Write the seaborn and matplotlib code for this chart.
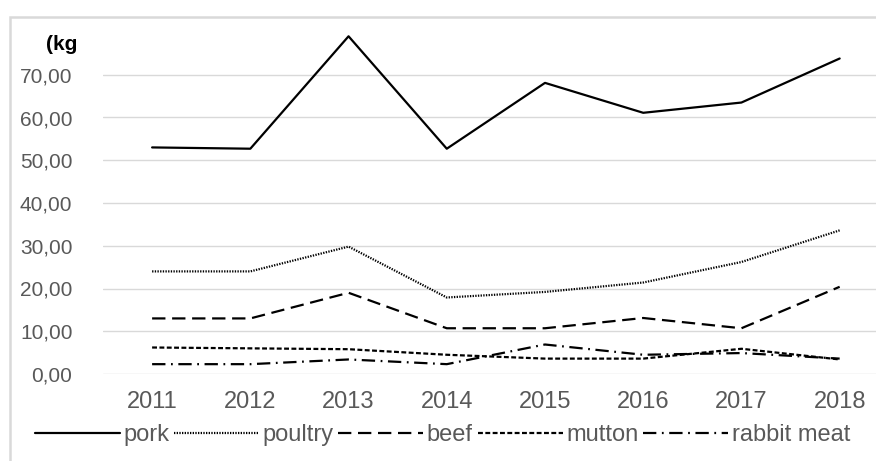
import matplotlib
matplotlib.use("Agg")
import matplotlib.pyplot as plt
import matplotlib.ticker as mticker
from matplotlib.patches import Rectangle
from matplotlib import font_manager
import pandas as pd
import seaborn as sns

# Per-capita meat consumption values
years = ["2011", "2012", "2013", "2014", "2015", "2016", "2017", "2018"]
pork = [53.0, 52.7, 79.0, 52.7, 68.1, 61.1, 63.5, 73.8]
poultry = [24.0, 24.0, 29.8, 17.9, 19.2, 21.4, 26.2, 33.6]
beef = [13.0, 13.0, 19.0, 10.7, 10.7, 13.1, 10.7, 20.4]
mutton = [6.2, 6.0, 5.8, 4.5, 3.6, 3.6, 5.9, 3.4]
rabbit = [2.3, 2.3, 3.4, 2.3, 6.9, 4.5, 4.9, 3.6]
series_names = ["pork", "poultry", "beef", "mutton", "rabbit meat"]
y_ticks = [0, 10, 20, 30, 40, 50, 60, 70]

sns.set_style("white")
plt.rcParams["font.family"] = ["Liberation Sans", "DejaVu Sans"]

# narrow face for x labels and legend if it is there
names = {f.name for f in font_manager.fontManager.ttflist}
narrow = "Liberation Sans Narrow" if "Liberation Sans Narrow" in names else "Liberation Sans"
print("narrow font:", narrow)

rows = []
for name, vals in zip(series_names, [pork, poultry, beef, mutton, rabbit]):
    for i, v in enumerate(vals):
        rows.append({"year": i, "meat": name, "kg": v})
df = pd.DataFrame(rows)

dashes = {
    "pork": "",
    "poultry": (0.6, 0.6),
    "beef": (6, 3),
    "mutton": (2.2, 1.1),
    "rabbit meat": (6, 2.5, 0.8, 2.5),
}

fig = plt.figure(figsize=(8.76, 4.61), dpi=100)
# light gray chart frame
fig.patches.append(Rectangle((10 / 876, -0.1), 1.0, 1.1 - 17 / 461,
                             transform=fig.transFigure, fill=False,
                             edgecolor="#d9d9d9", linewidth=1.8))
ax = fig.add_axes([103 / 876, (461 - 374) / 461, 773 / 876, (374 - 32) / 461])

sns.lineplot(data=df, x="year", y="kg", style="meat", dashes=dashes,
             color="black", linewidth=1.6, ax=ax, legend=False)

ax.set_xlim(-0.5, 7.37)
ax.set_ylim(0, 80)
ax.set_yticks(y_ticks)
ax.yaxis.set_major_formatter(mticker.FuncFormatter(lambda v, p: f"{v:.2f}".replace(".", ",")))
ax.set_xticks(range(len(years)))
ax.set_xticklabels(years)
ax.grid(axis="y", color="#d9d9d9", linewidth=1.0)
ax.set_axisbelow(True)
for s in ax.spines.values():
    s.set_visible(False)
ax.tick_params(axis="both", length=0, labelcolor="#595959")
ax.tick_params(axis="y", labelsize=15, pad=22)
ax.tick_params(axis="x", labelsize=17, pad=12)
for t in ax.get_xticklabels():
    t.set_family(narrow)
ax.set_xlabel("")
ax.set_ylabel("")

fig.text(46 / 876, 1 - 44 / 461, "(kg", fontsize=15, fontweight="bold",
         va="center", ha="left", color="black")

handles = []
for name in series_names:
    d = dashes[name]
    ls = "-" if d == "" else (0, d)
    (h,) = ax.plot([], [], color="black", linewidth=1.6, linestyle=ls, label=name)
    handles.append(h)
leg = fig.legend(handles=handles, labels=series_names, loc="center",
                 bbox_to_anchor=(0.505, 1 - 435 / 461), ncol=5, frameon=False,
                 prop={"family": narrow, "size": 17}, handlelength=3.6,
                 handletextpad=0.15, columnspacing=0.2, labelcolor="#595959")

fig.savefig("out.png", dpi=100)
